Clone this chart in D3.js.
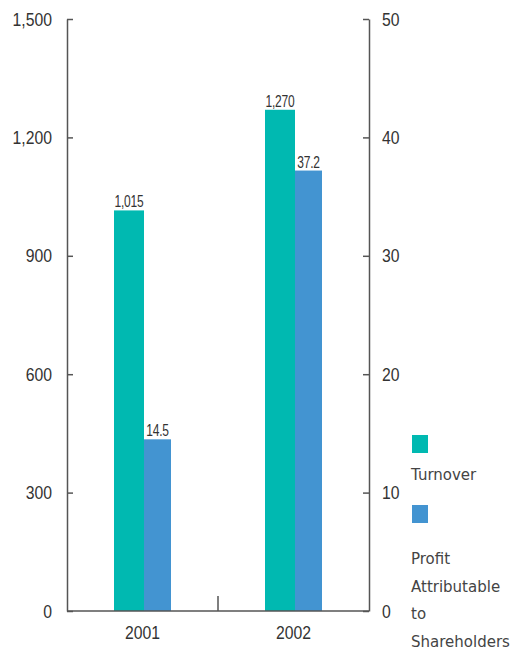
<!DOCTYPE html>
<html>
<head>
<meta charset="utf-8">
<script src="https://cdn.jsdelivr.net/npm/d3@7"></script>
<style>
  html, body { margin: 0; padding: 0; background: #fff; }
  svg { display: block; }
  .num { font-family: "Liberation Sans", Arial, sans-serif; fill: #333; }
  .leg { font-family: "DejaVu Sans", sans-serif; fill: #444; }
</style>
</head>
<body>
<svg id="chart" width="512" height="653"></svg>
<script>
// Financial highlights: turnover (left axis) and profit (right axis)
const years = ["2001", "2002"];
const turnover = [1015, 1270];
const profit = [14.5, 37.2];
const turnoverLabels = ["1,015", "1,270"];
const profitLabels = ["14.5", "37.2"];
const leftTicks = [0, 300, 600, 900, 1200, 1500];
const rightTicks = [0, 10, 20, 30, 40, 50];
const seriesNames = ["Turnover", "Profit Attributable to Shareholders"];

const colors = { turnover: "#00b9b1", profit: "#4394d1", axis: "#555" };

const svg = d3.select("#chart");
const plotLeft = 67, plotRight = 369, plotTop = 19, plotBottom = 611;

const x = d3.scaleBand().domain(years).range([plotLeft, plotRight]);
const yL = d3.scaleLinear().domain([0, 1500]).range([plotBottom, plotTop]);
const yR = d3.scaleLinear().domain([0, 50]).range([plotBottom, plotTop]);

const tW = 30, pW = 27;
const groupW = tW + pW;
const gx = d => x(d) + x.bandwidth() / 2 - groupW / 2;

// squeeze text horizontally to get a condensed face
function narrow(sel, s) {
  sel.each(function () {
    const t = d3.select(this);
    const x0 = +t.attr("x") || 0;
    t.attr("x", x0 / s).attr("transform", `scale(${s},1)`);
  });
}

// bars
svg.selectAll("rect.t").data(years).join("rect")
  .attr("class", "t")
  .attr("x", d => gx(d))
  .attr("width", tW)
  .attr("y", (d, i) => yL(turnover[i]))
  .attr("height", (d, i) => plotBottom - yL(turnover[i]))
  .attr("fill", colors.turnover);

svg.selectAll("rect.p").data(years).join("rect")
  .attr("class", "p")
  .attr("x", d => gx(d) + tW)
  .attr("width", pW)
  .attr("y", (d, i) => yR(profit[i]))
  .attr("height", (d, i) => plotBottom - yR(profit[i]))
  .attr("fill", colors.profit);

// value labels
svg.selectAll("text.tl").data(years).join("text")
  .attr("class", "num tl")
  .attr("x", d => gx(d) + tW / 2)
  .attr("y", (d, i) => yL(turnover[i]) - 3)
  .attr("text-anchor", "middle")
  .attr("font-size", 16)
  .attr("letter-spacing", -0.3)
  .text((d, i) => turnoverLabels[i])
  .call(narrow, 0.75);

svg.selectAll("text.pl").data(years).join("text")
  .attr("class", "num pl")
  .attr("x", d => gx(d) + tW + pW / 2)
  .attr("y", (d, i) => yR(profit[i]) - 3)
  .attr("text-anchor", "middle")
  .attr("font-size", 16)
  .attr("letter-spacing", -0.3)
  .text((d, i) => profitLabels[i])
  .call(narrow, 0.75);

// axes
function styleAxis(g) {
  g.attr("font-family", null).attr("font-size", null);
  g.select(".domain").attr("stroke", colors.axis).attr("stroke-width", 1.5);
  g.selectAll(".tick line").attr("stroke", colors.axis).attr("stroke-width", 1.5);
  g.selectAll(".tick text").attr("class", "num").attr("font-size", 19).attr("fill", "#333")
    .call(narrow, 0.83);
}

svg.append("g")
  .attr("transform", `translate(${plotLeft},0)`)
  .call(d3.axisLeft(yL).tickValues(leftTicks).tickFormat(d3.format(",")).tickSizeInner(-6).tickSizeOuter(0).tickPadding(15))
  .call(styleAxis);

svg.append("g")
  .attr("transform", `translate(${plotRight},0)`)
  .call(d3.axisRight(yR).tickValues(rightTicks).tickSizeInner(-6).tickSizeOuter(0).tickPadding(13))
  .call(styleAxis);

svg.append("g")
  .attr("transform", `translate(0,${plotBottom})`)
  .call(d3.axisBottom(x).tickSize(0).tickPadding(15))
  .call(styleAxis)
  .call(g => g.select(".domain").attr("d", `M${plotLeft},0H${plotRight}`));

// divider tick between years
svg.append("line")
  .attr("x1", x("2002")).attr("x2", x("2002"))
  .attr("y1", plotBottom).attr("y2", plotBottom - 15)
  .attr("stroke", colors.axis).attr("stroke-width", 1.5);

// legend
const legX = 412;
svg.append("rect").attr("x", legX).attr("y", 435).attr("width", 16).attr("height", 18).attr("fill", colors.turnover);
svg.append("text").attr("class", "leg").attr("x", legX - 1).attr("y", 480).attr("font-size", 15).text(seriesNames[0]);
svg.append("rect").attr("x", legX).attr("y", 505).attr("width", 16).attr("height", 18).attr("fill", colors.profit);
const lines = ["Profit", "Attributable", "to", "Shareholders"];
svg.append("text").attr("class", "leg").attr("x", legX - 1).attr("y", 564).attr("font-size", 15)
  .selectAll("tspan").data(lines).join("tspan")
  .attr("x", legX - 1).attr("dy", (d, i) => i === 0 ? 0 : 27.5).text(d => d);
</script>
</body>
</html>
